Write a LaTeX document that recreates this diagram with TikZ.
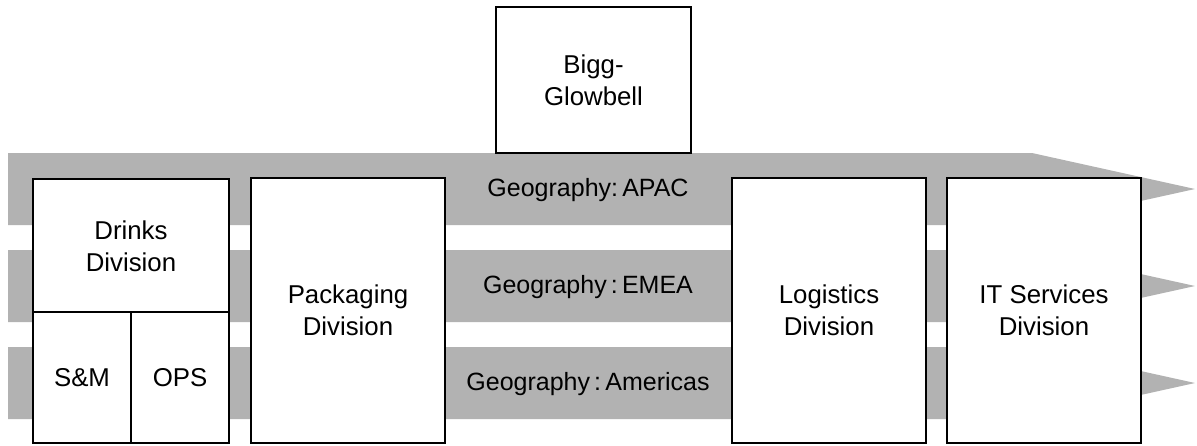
\documentclass[tikz,border=0pt]{standalone}
\usepackage{fontspec}
\setmainfont{Liberation Sans}
\tikzset{
	division/.style={draw,line width=1.4pt,fill=white,align=center,inner sep=0pt,
		font=\fontsize{25.8}{32}\selectfont},
	band/.style={fill=gray!60},
	geolabel/.style={font=\fontsize{25}{31}\selectfont,inner sep=0pt}
}

\begin{document}
\begin{tikzpicture}[x=1pt,y=-1pt]
	\useasboundingbox (0,0) rectangle (1197,445);
	% one grey arrow per geography
	\foreach \t/\geo [count=\k] in {153/{Geography:\,APAC},250/{Geography\,:\,EMEA},347/{Geography\,:\,Americas}}{
		\fill[band] (8,\t) -- (1032,\t) -- (1195,\t+36) -- (1032,\t+72) -- (8,\t+72) -- cycle;
		\node[geolabel] (geo\k) at (588,\t+37) {\geo};
	}
	\node[division,minimum width=195pt,minimum height=146pt] (bigg) at (593.5,80) {Bigg-\\Glowbell};
	% drinks split into sales and operations
	\node[division,minimum width=196pt,minimum height=134pt] (drinks) at (131,246) {Drinks\\Division};
	\node[division,minimum width=98pt,minimum height=131pt] (sm) at (82,377.5) {S\&M};
	\node[division,minimum width=98pt,minimum height=131pt] (ops) at (180,377.5) {OPS};
	\node[division,minimum width=194pt,minimum height=265pt] (packaging) at (348,310.5) {Packaging\\Division};
	\node[division,minimum width=194pt,minimum height=265pt] (logistics) at (829,310.5) {Logistics\\Division};
	\node[division,minimum width=194pt,minimum height=265pt] (itservices) at (1044,310.5) {IT Services\\Division};
\end{tikzpicture}
\end{document}
